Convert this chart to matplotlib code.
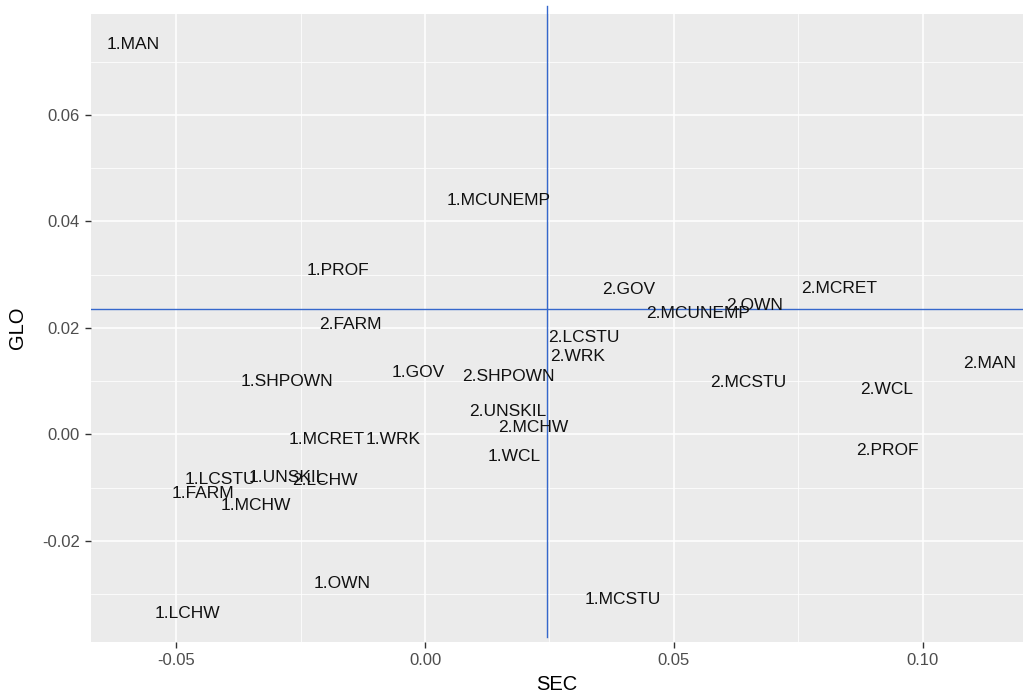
import matplotlib
matplotlib.use("Agg")
import matplotlib.pyplot as plt
from matplotlib.ticker import MultipleLocator, FuncFormatter

plt.rcParams["font.family"] = ["Liberation Sans", "DejaVu Sans"]

# Category coordinates on the SEC / GLO dimensions
labels = [
    "1.MAN", "1.MCUNEMP", "1.PROF", "2.FARM", "1.GOV", "1.SHPOWN",
    "1.MCRET", "1.WRK", "1.LCSTU", "1.UNSKIL", "2.LCHW", "1.FARM",
    "1.MCHW", "1.OWN", "1.LCHW", "2.GOV", "2.MCUNEMP", "2.OWN",
    "2.MCRET", "2.LCSTU", "2.WRK", "2.SHPOWN", "2.UNSKIL", "2.MCHW",
    "1.WCL", "1.MCSTU", "2.MCSTU", "2.WCL", "2.MAN", "2.PROF",
]
sec = [
    -0.0586, 0.0147, -0.0176, -0.0150, -0.0014, -0.0278,
    -0.0198, -0.0064, -0.0412, -0.0277, -0.0201, -0.0446,
    -0.0340, -0.0167, -0.0477, 0.0410, 0.0549, 0.0663,
    0.0833, 0.0319, 0.0307, 0.0168, 0.0167, 0.0217,
    0.0179, 0.0397, 0.0650, 0.0927, 0.1134, 0.0929,
]
glo = [
    0.0732, 0.0439, 0.0307, 0.0206, 0.0117, 0.0099,
    -0.0009, -0.0009, -0.0085, -0.0080, -0.0087, -0.0110,
    -0.0134, -0.0279, -0.0337, 0.0273, 0.0228, 0.0243,
    0.0275, 0.0183, 0.0146, 0.0108, 0.0043, 0.0014,
    -0.0042, -0.0309, 0.0097, 0.0084, 0.0134, -0.0031,
]

# Reference lines (mean positions)
sec_ref = 0.0246
glo_ref = 0.0235

fig = plt.figure(figsize=(10.23, 6.95), dpi=100)
ax = fig.add_axes([0.0890, 0.0763, 0.9110, 0.9036])
ax.set_facecolor("#EBEBEB")
for s in ax.spines.values():
    s.set_visible(False)

ax.set_xlim(-0.06711, 0.12015)
ax.set_ylim(-0.03897, 0.07897)

ax.xaxis.set_major_locator(MultipleLocator(0.05))
ax.xaxis.set_minor_locator(MultipleLocator(0.025))
ax.yaxis.set_major_locator(MultipleLocator(0.02))
ax.yaxis.set_minor_locator(MultipleLocator(0.01))
ax.grid(which="major", color="white", linewidth=1.1)
ax.grid(which="minor", color="white", linewidth=0.55)
ax.set_axisbelow(True)

ax.tick_params(which="major", length=4, width=1.0, color="#333333",
               labelcolor="#4D4D4D", labelsize=12, pad=4)
ax.tick_params(which="minor", length=0)
fmt = FuncFormatter(lambda v, p: f"{v:.2f}")
ax.xaxis.set_major_formatter(fmt)
ax.yaxis.set_major_formatter(fmt)

for lab, x, y in zip(labels, sec, glo):
    ax.text(x, y, lab, ha="center", va="center", fontsize=12.5, color="#111111")

line_color = "#3567CC"
ax.axhline(glo_ref, color=line_color, linewidth=1.0)
ax.plot([sec_ref, sec_ref], [-0.0380, 0.0805], color=line_color,
        linewidth=1.0, clip_on=False)

ax.set_xlabel("SEC", fontsize=14.5, labelpad=5)
ax.set_ylabel("GLO", fontsize=14.5, labelpad=11)

fig.savefig("out.png", dpi=100)
